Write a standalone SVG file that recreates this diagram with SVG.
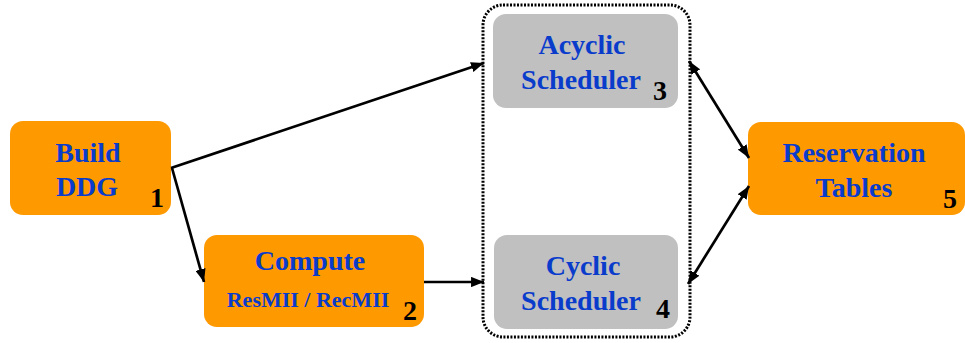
<svg xmlns="http://www.w3.org/2000/svg" width="965" height="343" viewBox="0 0 965 343">
<defs>
<style>
.org{fill:#ff9900;}
.gry{fill:#c0c0c0;}
.t{font-family:"Liberation Serif","Times New Roman",serif;font-weight:bold;fill:#0a3ccc;text-anchor:middle;font-size:28px;}
.s{font-size:22px;}
.n{font-family:"Liberation Serif","Times New Roman",serif;font-weight:bold;fill:#000;font-size:28px;text-anchor:middle;}
.c{stroke:#000;stroke-width:2.7;fill:none;}
</style>
<marker id="ah" viewBox="0 0 10 8" refX="10" refY="4" markerWidth="4.8" markerHeight="3.9" orient="auto-start-reverse" markerUnits="strokeWidth">
<path d="M0,0 L10,4 L0,8 z" fill="#000"/>
</marker>
</defs>
<g id="container">
<rect x="483" y="5" width="207" height="332" rx="20" ry="20" fill="none" stroke="#000" stroke-width="3" stroke-dasharray="2,1.5"/>
</g>
<g id="n1">
<rect class="org" x="10" y="121" width="161" height="94" rx="13"/>
<text class="t" x="88" y="162">Build</text>
<text class="t" x="87" y="196">DDG</text>
<text class="n" x="157" y="207">1</text>
</g>
<g id="n2">
<rect class="org" x="204" y="235" width="220" height="92" rx="13"/>
<text class="t" x="310" y="270">Compute</text>
<text class="t s" x="308" y="307">ResMII / RecMII</text>
<text class="n" x="410" y="320">2</text>
</g>
<g id="n3">
<rect class="gry" x="493" y="14" width="185" height="94" rx="13"/>
<text class="t" x="582" y="54">Acyclic</text>
<text class="t" x="581" y="89">Scheduler</text>
<text class="n" x="660" y="100">3</text>
</g>
<g id="n4">
<rect class="gry" x="494" y="235" width="184" height="94" rx="13"/>
<text class="t" x="583" y="275">Cyclic</text>
<text class="t" x="581" y="310">Scheduler</text>
<text class="n" x="663" y="318">4</text>
</g>
<g id="n5">
<rect class="org" x="748" y="122" width="217" height="93" rx="13"/>
<text class="t" x="854" y="162">Reservation</text>
<text class="t" x="854" y="197">Tables</text>
<text class="n" x="950" y="208">5</text>
</g>
<g id="connectors">
<line class="c" x1="171" y1="168" x2="484" y2="63" marker-end="url(#ah)"/>
<line class="c" x1="172" y1="168" x2="204" y2="282" marker-end="url(#ah)"/>
<line class="c" x1="424" y1="282" x2="484" y2="282" marker-end="url(#ah)"/>
<line class="c" x1="689" y1="61" x2="749" y2="158" marker-start="url(#ah)" marker-end="url(#ah)"/>
<line class="c" x1="749" y1="186" x2="688" y2="284" marker-start="url(#ah)" marker-end="url(#ah)"/>
</g>
</svg>
